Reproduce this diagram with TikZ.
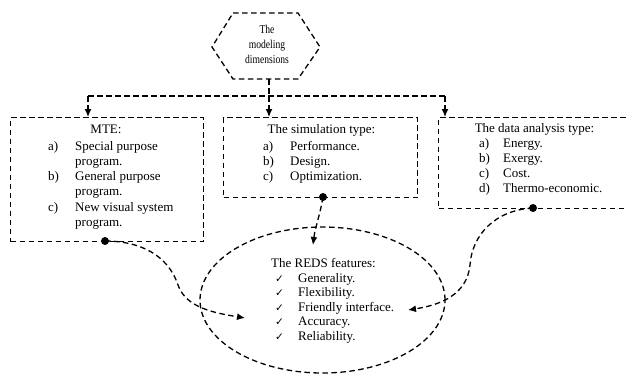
\documentclass[tikz,border=0pt]{standalone}
\usepackage{fontspec}
\setmainfont{Liberation Serif}
\newfontfamily\symfont{DejaVu Sans}
\usetikzlibrary{arrows.meta,shapes.geometric}
\tikzset{
  dsh/.style={dash pattern=on 5.5pt off 3.5pt, line width=1.3pt},
  box/.style={dsh, draw, rectangle, inner sep=0pt, anchor=north west},
  arr/.style={dsh, -{Latex[length=8pt,width=7pt]}},
  txt/.style={inner sep=0pt, font=\fontsize{13}{15.3}\selectfont},
  dotc/.style={circle, fill, inner sep=0pt, minimum size=8pt},
}
\newcommand{\ck}{{\symfont\fontsize{10.5}{10}\selectfont ✓}}
\begin{document}
\begin{tikzpicture}[x=1pt,y=-1pt]
\useasboundingbox (0,0) rectangle (628,376);
\clip (0,0) rectangle (628,376);
% hexagon
\draw[dsh] (233,13) -- (298,13) -- (320,47) -- (298,79) -- (233,79) -- (212,47) -- cycle;
\node[inner sep=0pt, align=center, font=\fontsize{12}{15}\selectfont] (hex) at (267,44)
  {\scalebox{0.8}[1]{The}\\\scalebox{0.8}[1]{modeling}\\\scalebox{0.8}[1]{dimensions}};
\coordinate (hexb) at (269,79);
\coordinate (split) at (269,96);
\coordinate (sl) at (88,96);
\coordinate (sr) at (445,96);
% boxes
\node[box, minimum width=193pt, minimum height=124pt] (mte) at (10,117) {};
\node[box, minimum width=194pt, minimum height=80pt] (sim) at (223,117) {};
\node[box, minimum width=210pt, minimum height=91pt] (dat) at (438,117) {};
% ellipse
\node[dsh, draw, ellipse, minimum width=245pt, minimum height=146pt, inner sep=0pt] (reds) at (322.5,300) {};
% connectors from hexagon
\draw[dsh] (hexb) -- (split);
\draw[dsh] (sl) -- (sr);
\draw[arr] (sl) -- (sl |- mte.north);
\draw[arr] (split) -- (split |- sim.north);
\draw[arr] (sr) -- (sr |- dat.north);
% MTE text
\node[txt, anchor=base] (mtet) at (106,133) {MTE:};
\node[txt, anchor=base west] (mtel) at (48,150) {\begin{tabular}[t]{@{}p{27pt}@{}l@{}}
a) & Special purpose\\ & program.\\ b) & General purpose\\ & program.\\ c) & New visual system\\ & program.\end{tabular}};
% sim text
\node[txt, anchor=base] (simt) at (321.5,133) {The simulation type:};
\node[txt, anchor=base west] (siml) at (263,150) {\fontsize{13}{15}\selectfont\begin{tabular}[t]{@{}p{27pt}@{}l@{}}
a) & Performance.\\ b) & Design.\\ c) & Optimization.\end{tabular}};
% data text
\node[txt, anchor=base] (datt) at (534.5,132) {The data analysis type:};
\node[txt, anchor=base west] (datl) at (479,147) {\fontsize{13}{15}\selectfont\begin{tabular}[t]{@{}p{24pt}@{}l@{}}
a) & Energy.\\ b) & Exergy.\\ c) & Cost.\\ d) & Thermo-economic.\end{tabular}};
% REDS text
\node[txt, anchor=base] (redst) at (323.5,267) {The REDS features:};
\node[txt, anchor=base west] (redsl) at (275,282) {\fontsize{13}{14.6}\selectfont\begin{tabular}[t]{@{}p{23pt}@{}l@{}}
\ck & Generality.\\ \ck & Flexibility.\\ \ck & Friendly interface.\\ \ck & Accuracy.\\ \ck & Reliability.\end{tabular}};
% dots
\node[dotc] (d1) at (105,241) {};
\node[dotc] (d2) at (323,197) {};
\node[dotc] (d3) at (533,208) {};
\coordinate (e1) at (245,318);
\coordinate (e2) at (313,245);
\coordinate (e3) at (408,310);
\draw[arr] (d1.center) .. controls (140,241) and (168,255) .. (178,285) .. controls (186,308) and (215,313) .. (e1);
\draw[arr] (d2.center) .. controls (320,215) and (315,228) .. (e2);
\draw[arr] (d3.center) .. controls (495,210) and (472,235) .. (470,265) .. controls (467,295) and (440,305) .. (e3);
\end{tikzpicture}
\end{document}
